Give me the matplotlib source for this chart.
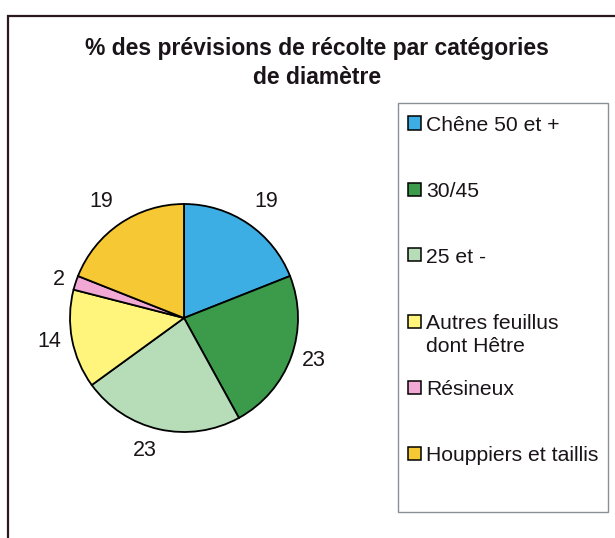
import numpy as np
import matplotlib
matplotlib.use('Agg')
import matplotlib.pyplot as plt
from matplotlib.patches import Rectangle

# data
categories = ['Chêne 50 et +', '30/45', '25 et -', 'Autres feuillus\ndont Hêtre',
              'Résineux', 'Houppiers et taillis']
values = [19, 23, 23, 14, 2, 19]
colors = ['#3caee3', '#3b9b4b', '#b6ddb8', '#fff47c', '#f2a8d4', '#f6c934']

plt.rcParams['font.family'] = ['Liberation Sans', 'DejaVu Sans']

W, H = 615, 538
fig = plt.figure(figsize=(W / 100, H / 100), dpi=100)

# outer chart frame
fig.patches.append(Rectangle((8 / W, -0.1), 1.2, 1 - 16 / H + 0.1, transform=fig.transFigure,
                             fill=False, edgecolor='#2a1a1e', linewidth=1.6))

# title
fig.text(317 / W, 1 - 63 / H, '% des prévisions de récolte par catégories\nde diamètre',
         ha='center', va='center', fontsize=16.5, fontweight='bold', linespacing=1.32,
         color='#1a1418')

# pie
cx, cy, r = 184, 318, 114
ax = fig.add_axes([(cx - r) / W, (H - cy - r) / H, 2 * r / W, 2 * r / H])
wedges, _ = ax.pie(values, colors=colors, startangle=90, counterclock=False,
                   wedgeprops=dict(edgecolor='black', linewidth=1.3))
ax.set_xlim(-1, 1)
ax.set_ylim(-1, 1)
ax.set_aspect('auto')
ax.axis('off')

# value labels placed outside each slice
total = sum(values)
start = 90.0
for v in values:
    ang = np.deg2rad(start - v / total * 360 / 2)
    start -= v / total * 360
    x, y = 1.1 * np.cos(ang), 1.1 * np.sin(ang)
    ha = 'left' if x > 0 else 'right'
    if y > 0.5:
        va = 'bottom'
        y += 0.02
    elif y < -0.5:
        va = 'top'
    else:
        va = 'center'
    ax.text(x, y, str(v), ha=ha, va=va, fontsize=15.5, clip_on=False, color='#1a1418')

# legend frame and entries (first text line of each entry on an even step)
fig.patches.append(Rectangle((398 / W, 1 - 512 / H), 210 / W, 409 / H, transform=fig.transFigure,
                             fill=False, edgecolor='#8a8f96', linewidth=1.0))
for i, (lab, col) in enumerate(zip(categories, colors)):
    yc = 123 + 66 * i
    fig.patches.append(Rectangle((408 / W, 1 - (yc + 6.5) / H), 13 / W, 13 / H,
                                 transform=fig.transFigure, facecolor=col,
                                 edgecolor='black', linewidth=1.1))
    fig.text(426 / W, 1 - (yc - 7) / H, lab, ha='left', va='top', fontsize=15.2,
             linespacing=1.3, color='#1a1418')

fig.savefig('out.png', dpi=100)
